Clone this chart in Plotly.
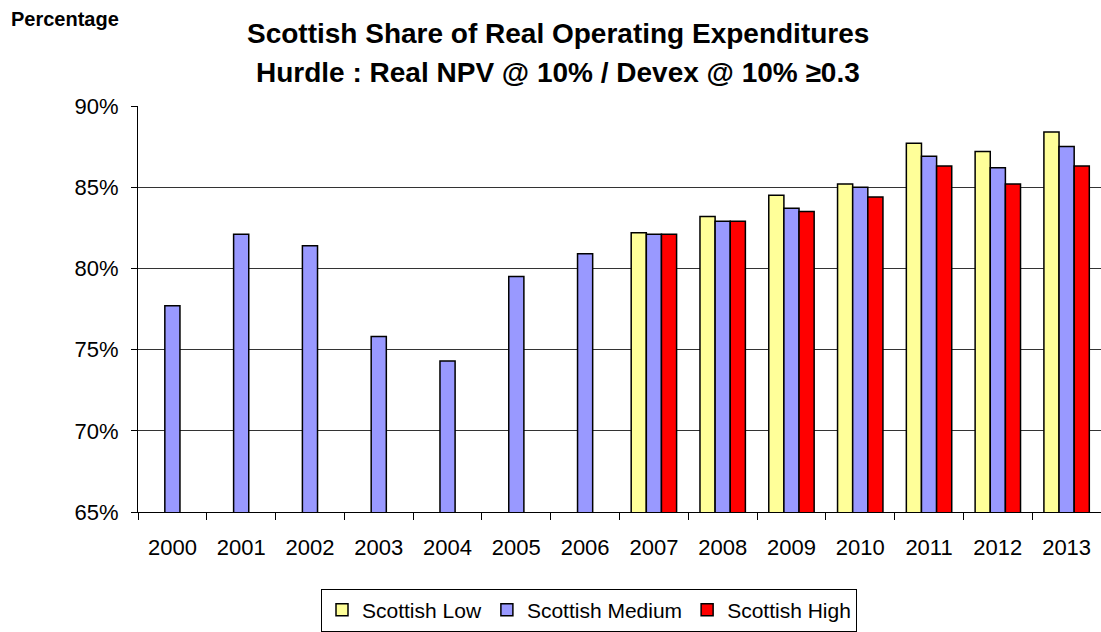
import plotly.graph_objects as go

years = ["2000", "2001", "2002", "2003", "2004", "2005", "2006",
         "2007", "2008", "2009", "2010", "2011", "2012", "2013"]
scottish_low = [None, None, None, None, None, None, None,
                82.2, 83.2, 84.5, 85.2, 87.7, 87.2, 88.4]
scottish_medium = [77.7, 82.1, 81.4, 75.8, 74.3, 79.5, 80.9,
                   82.1, 82.9, 83.7, 85.0, 86.9, 86.2, 87.5]
scottish_high = [None, None, None, None, None, None, None,
                 82.1, 82.9, 83.5, 84.4, 86.3, 85.2, 86.3]
y_ticks = [65, 70, 75, 80, 85, 90]
y_tick_text = ["65%", "70%", "75%", "80%", "85%", "90%"]

FONT = "Liberation Sans, Arial, sans-serif"
PW, PH, PL, PB = 963, 408, 138, 514


def px_x(x):
    return (x - PL) / PW


def px_y(y):
    return (PB - y) / PH


fig = go.Figure()
for name, vals, col in [("Scottish Low", scottish_low, "#FFFF99"),
                        ("Scottish Medium", scottish_medium, "#9999FF"),
                        ("Scottish High", scottish_high, "#FF0000")]:
    fig.add_trace(go.Bar(x=years, y=vals, name=name,
                         marker=dict(color=col, line=dict(color="black", width=1.5))))

fig.update_layout(
    width=1101, height=632,
    paper_bgcolor="white", plot_bgcolor="white",
    margin=dict(l=138, r=0, t=106, b=118),
    barmode="group", bargap=0.34, bargroupgap=0,
    font=dict(family=FONT, size=20, color="black"),
    showlegend=True,
    legend=dict(orientation="h", x=px_x(589), xanchor="center", y=px_y(591), yanchor="top",
                bordercolor="black", borderwidth=1, font=dict(size=21),
                itemwidth=30, tracegroupgap=0),
    xaxis=dict(type="category", showline=True, linecolor="black", linewidth=1,
               ticks="outside", tickson="boundaries", ticklen=7, tickcolor="black",
               showgrid=False, tickfont=dict(size=22), automargin=False,
               ticklabelstandoff=16),
    yaxis=dict(range=[65, 90], tickvals=y_ticks, ticktext=y_tick_text,
               showline=True, linecolor="black", linewidth=1,
               ticks="outside", ticklen=6, tickcolor="black",
               showgrid=True, gridcolor="#333", gridwidth=1,
               zeroline=False, tickfont=dict(size=22), automargin=False,
               ticklabelstandoff=8),
    annotations=[
        dict(text="<b>Scottish Share of Real Operating Expenditures</b>", xref="paper", yref="paper",
             x=px_x(558), xanchor="center", y=px_y(33), yanchor="middle", showarrow=False,
             font=dict(size=28)),
        dict(text="<b>Hurdle : Real NPV @ 10% / Devex @ 10% ≥0.3</b>", xref="paper", yref="paper",
             x=px_x(558), xanchor="center", y=px_y(72), yanchor="middle", showarrow=False,
             font=dict(size=28)),
        dict(text="<b>Percentage</b>", xref="paper", yref="paper",
             x=px_x(9), xanchor="left", y=px_y(19), yanchor="middle",
             showarrow=False, font=dict(size=20)),
    ],
)

fig.write_html("out.html", config={"displayModeBar": False},
               post_script="document.body.style.margin='0';")
